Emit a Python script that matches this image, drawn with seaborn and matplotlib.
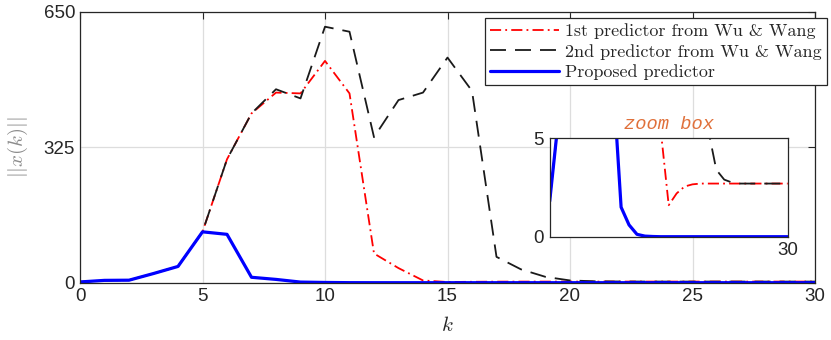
import numpy as np
import pandas as pd
import seaborn as sns
import matplotlib.pyplot as plt

# ---- data ----
k = list(range(31))
pred1 = [1.8, 5.6, 6, 22, 39, 122, 296, 406, 456, 454, 532, 454, 70, 35, 5.4,
         1.6, 2.2, 2.55, 2.66, 2.7, 2.7, 2.7, 2.7, 2.7, 2.7, 2.7, 2.7, 2.7, 2.7, 2.7, 2.7]
pred2 = [1.8, 5.6, 6, 22, 39, 122, 296, 406, 464, 442, 614, 602, 349, 438, 456,
         540, 460, 62, 32, 14, 5.4, 3.4, 2.9, 2.75, 2.7, 2.7, 2.7, 2.7, 2.7, 2.7, 2.7]
proposed = [1.8, 5.6, 6, 22, 39, 122, 116, 13, 7.9, 1.5, 0.6, 0.12, 0.03, 0.01, 0,
            0, 0, 0, 0, 0, 0, 0, 0, 0, 0, 0, 0, 0, 0, 0, 0]
labels = ['1st predictor from Wu & Wang', '2nd predictor from Wu & Wang', 'Proposed predictor']

df = pd.DataFrame({'k': k, 'p1': pred1, 'p2': pred2, 'pr': proposed})

sns.set_theme(style='white')
plt.rcParams['font.family'] = ['Liberation Sans', 'DejaVu Sans']
plt.rcParams['mathtext.fontset'] = 'cm'
plt.rcParams['lines.scale_dashes'] = False

styles = [
    dict(color='#ff0000', lw=1.3, dashes=(8, 3, 1.3, 3)),
    dict(color='#1a1a1a', lw=1.3, dashes=(11.5, 6.5)),
    dict(color='#0000ff', lw=2.3, linestyle='-'),
]
cols = ['p1', 'p2', 'pr']

fig = plt.figure(figsize=(8.31, 3.40), dpi=100)
ax = fig.add_axes([80 / 831, 1 - 282.7 / 340, 735 / 831, 271 / 340])

for c, st, lab in zip(cols, styles, labels):
    sns.lineplot(data=df, x='k', y=c, ax=ax, label=lab, **st)

ax.set_xlim(0, 30)
ax.set_ylim(0, 650)
ax.set_xticks([0, 5, 10, 15, 20, 25, 30])
ax.set_yticks([0, 325, 650])
ax.grid(True, color='#dddddd', lw=0.9)
ax.tick_params(direction='in', top=True, right=True, length=5, width=0.8,
               colors='#262626', labelsize=13.5, labelcolor='#262626')
for s in ax.spines.values():
    s.set_color('#262626')
    s.set_linewidth(0.9)
ax.set_xlabel('$k$', fontsize=15, color='#262626', labelpad=8)
ax.set_ylabel('$||x(k)||$', fontsize=15, color='#8c8c8c', labelpad=10)

leg = ax.legend(loc='upper right', bbox_to_anchor=(827 / 831, 1 - 18 / 340),
                bbox_transform=fig.transFigure, prop={'family': 'cmr10', 'size': 13},
                handlelength=3.8, handletextpad=0.35, labelspacing=0.25,
                borderpad=0.3, borderaxespad=0, fancybox=False, framealpha=1)
leg.get_frame().set_edgecolor('#262626')
leg.get_frame().set_linewidth(0.9)

# ---- inset ----
ins = fig.add_axes([549.7 / 831, 1 - 236.7 / 340, 238 / 831, 98.4 / 340])
for c, st in zip(cols, styles):
    sns.lineplot(data=df, x='k', y=c, ax=ins, **st)
ins.set_xlim(0, 30)
ins.set_ylim(0, 5)
ins.set_xticks([30])
ins.set_yticks([0, 5])
ins.tick_params(length=0, labelsize=13.5, labelcolor='#262626', pad=4)
ins.set_xlabel('')
ins.set_ylabel('')
for s in ins.spines.values():
    s.set_color('#262626')
    s.set_linewidth(0.9)
ins.set_title('zoom box', family='Liberation Mono', style='italic', color='#e0703a',
              fontsize=13.5, pad=7)

fig.savefig('out.png', dpi=100)
